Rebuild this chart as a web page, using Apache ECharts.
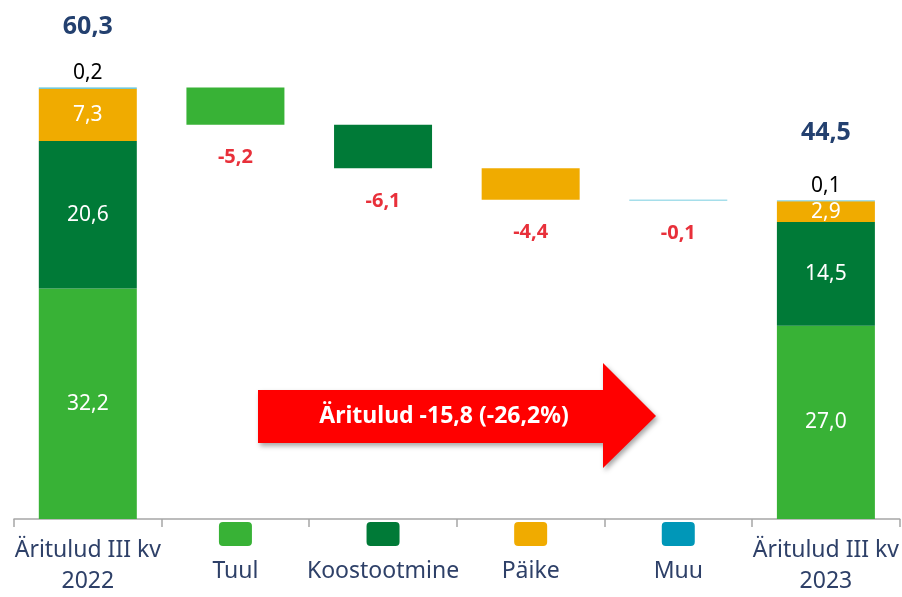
<!DOCTYPE html>
<html>
<head>
<meta charset="utf-8">
<script src="https://cdn.jsdelivr.net/npm/echarts@6/dist/echarts.min.js"></script>
<style>
  html, body { margin: 0; padding: 0; background: #fff; }
  #chart { width: 902px; height: 597px; }
</style>
</head>
<body>
<div id="chart"></div>
<script>
    var categories = ['Äritulud III kv 2022', 'Tuul', 'Koostootmine', 'Päike', 'Muu', 'Äritulud III kv 2023'];
    var segments = ['Tuul', 'Koostootmine', 'Päike', 'Muu'];
    var startValues = [32.2, 20.6, 7.3, 0.2];
    var changes = [-5.2, -6.1, -4.4, -0.1];
    var endValues = [27.0, 14.5, 2.9, 0.1];
    var arrowText = 'Äritulud -15,8 (-26,2%)';

    var barColors = ['#38B236', '#007A37', '#F0AB00', '#4DBDD6'];
    var boxColors = ['#38B236', '#007A37', '#F0AB00', '#0097B8'];
    var navy = '#23406F';
    var font = 'Noto Sans';

    function fmt(v) {
        return v.toFixed(1).replace('.', ',');
    }
    function $each(a, f) { for (var i = 0; i < a.length; i++) f(a[i], i); }
    function sum(a) {
        var s = 0;
        $each(a, function (v) { s += v; });
        return Math.round(s * 10) / 10;
    }

    var startTotal = sum(startValues);
    var endTotal = sum(endValues);

    // invisible base under each change bar
    var baseData = ['-'];
    var running = startTotal;
    $each(changes, function (c) {
        running = Math.round((running + c) * 10) / 10;
        baseData.push(running);
    });
    baseData.push('-');

    var series = [{
        name: 'base',
        type: 'bar',
        stack: 'wf',
        barWidth: 98,
        itemStyle: { color: 'transparent' },
        silent: true,
        data: baseData
    }];

    $each(segments, function (name, i) {
        var data = [];
        $each(categories, function (c, k) {
            var v;
            if (k == 0) v = startValues[i];
            else if (k == categories.length - 1) v = endValues[i];
            else if (k == i + 1) v = -changes[i];
            else { data.push('-'); return; }

            var label;
            if (k == 0 || k == categories.length - 1) {
                if (name == 'Muu') {
                    label = { show: true, position: 'top', distance: 4, color: '#000', fontSize: 21, fontFamily: font, formatter: fmt(v) };
                } else {
                    label = { show: true, position: 'inside', color: '#fff', fontSize: 21, fontFamily: font, formatter: fmt(v) };
                }
            } else {
                label = { show: true, position: 'bottom', distance: 23, color: '#E8303A', fontSize: 20, fontWeight: 'bold', fontFamily: font, formatter: fmt(-v) };
            }
            data.push({ value: v, label: label });
        });
        series.push({
            name: name,
            type: 'bar',
            stack: 'wf',
            barWidth: 98,
            itemStyle: { color: barColors[i] },
            data: data
        });
    });

    var totalData = [];
    $each(categories, function (c, k) {
        if (k == 0) totalData.push({ value: startTotal, label: { distance: 48 } });
        else if (k == categories.length - 1) totalData.push({ value: endTotal, label: { distance: 55 } });
        else totalData.push('-');
    });
    series.push({
        name: 'total',
        type: 'scatter',
        symbolSize: 1,
        itemStyle: { color: 'transparent', opacity: 1 },
        label: {
            show: true,
            position: 'top',
            color: navy,
            fontSize: 25,
            fontWeight: 'bold',
            fontFamily: font,
            formatter: function (p) { return fmt(p.value); }
        },
        data: totalData
    });

    var rich = {
        gap: { height: 13, lineHeight: 13 },
        n: { fontSize: 23, lineHeight: 31, color: '#2E4068', fontFamily: font },
        m: { fontSize: 23, lineHeight: 50, color: '#2E4068', fontFamily: font }
    };
    $each(segments, function (s, i) {
        rich['b' + i] = { width: 33, height: 24, lineHeight: 24, backgroundColor: boxColors[i], borderRadius: 4 };
    });

    var option = {
        animation: false,
        grid: { left: 14, right: 2, top: 18, bottom: 78 },
        xAxis: {
            type: 'category',
            data: categories,
            axisLine: { lineStyle: { color: '#A6A6A6', width: 1.5 } },
            axisTick: { show: true, alignWithLabel: false, length: 8, lineStyle: { color: '#A6A6A6', width: 1.5 } },
            axisLabel: {
                interval: 0,
                margin: 3,
                rich: rich,
                formatter: function (v, k) {
                    if (k == 0 || k == categories.length - 1) {
                        var parts = v.split(' ');
                        var year = parts.pop();
                        return '{gap|}\n{n|' + parts.join(' ') + '}\n{n|' + year + '}';
                    }
                    return '{b' + (k - 1) + '|}\n{m|' + v + '}';
                }
            }
        },
        yAxis: { type: 'value', min: 0, max: 70, show: false },
        series: series,
        graphic: [{
            type: 'polygon',
            shape: { points: [[258, 390], [603, 390], [603, 363], [656, 416], [603, 468], [603, 443], [258, 443]] },
            style: { fill: '#FF0000', shadowBlur: 5, shadowOffsetX: 2, shadowOffsetY: 3, shadowColor: 'rgba(0,0,0,0.35)' }
        }, {
            type: 'text',
            x: 444,
            y: 416,
            style: { text: arrowText, fill: '#fff', font: 'bold 23px "Noto Sans"', align: 'center', verticalAlign: 'middle' }
        }]
    };

    var chart = echarts.init(document.getElementById('chart'));
    chart.setOption(option);
</script>
</body>
</html>
